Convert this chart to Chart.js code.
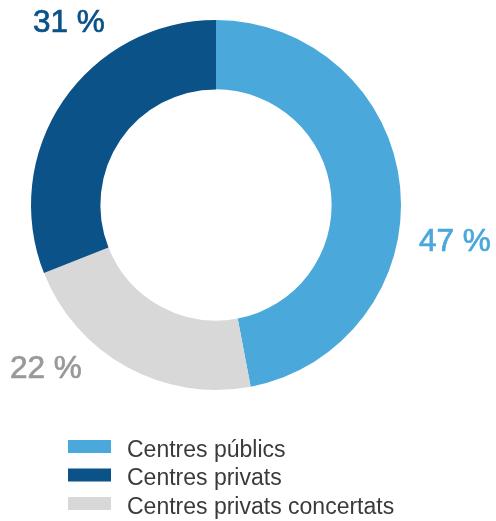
<!DOCTYPE html>
<html>
<head>
<meta charset="utf-8">
<script src="https://cdn.jsdelivr.net/npm/chart.js@4.4.1/dist/chart.umd.min.js"></script>
<style>
  html, body { margin: 0; padding: 0; background: #fff; }
  #wrap { width: 496px; height: 521px; }
</style>
</head>
<body>
<div id="wrap"><canvas id="donut-chart"></canvas></div>
<script>
const labels = ['Centres públics', 'Centres privats concertats', 'Centres privats']
const values = [47, 22, 31]
const legendOrder = [0, 2, 1]

const COLORS = {
  lightBlue: "#4aa8db",
  grey: "#d7d8d7",
  darkBlue: "#0a5287",
  text: "#3a3a3a",
  greyText: "#999999"
}
const sliceColors = [COLORS.lightBlue, COLORS.grey, COLORS.darkBlue]
const labelColors = [COLORS.lightBlue, COLORS.greyText, COLORS.darkBlue]

// where the percentage labels sit, relative to the donut centre
const labelOffsets = [
  { dx: 203, dy: 46 },
  { dx: -206, dy: 173 },
  { dx: -183, dy: -173 }
]

const extrasPlugin = {
  id: "extras",
  afterDraw(chart) {
    const ctx = chart.ctx
    const arc = chart.getDatasetMeta(0).data[0]
    const cx = arc.x
    const cy = arc.y

    ctx.save()
    ctx.font = "31.5px 'Liberation Sans', Arial, sans-serif"
    ctx.textBaseline = "alphabetic"
    ctx.textAlign = "left"
    ctx.lineWidth = 0.7
    values.forEach((v, i) => {
      const txt = v + " %"
      ctx.fillStyle = labelColors[i]
      ctx.strokeStyle = labelColors[i]
      ctx.fillText(txt, cx + labelOffsets[i].dx, cy + labelOffsets[i].dy)
      ctx.strokeText(txt, cx + labelOffsets[i].dx, cy + labelOffsets[i].dy)
    })

    // legend
    ctx.font = "23px 'Liberation Sans', Arial, sans-serif"
    legendOrder.forEach((idx, row) => {
      const y = 440 + row * 28.5
      ctx.fillStyle = sliceColors[idx]
      ctx.fillRect(68, y, 43, 13)
      ctx.fillStyle = COLORS.text
      ctx.fillText(labels[idx], 127, y + 16.5)
    })
    ctx.restore()
  }
}

const data = {
  labels: labels,
  datasets: [{
    data: values,
    backgroundColor: sliceColors,
    borderWidth: 0,
    hoverOffset: 0
  }]
}

const config = {
  type: "doughnut",
  data: data,
  options: {
    responsive: true,
    maintainAspectRatio: false,
    animation: false,
    cutout: "62.5%",
    layout: {
      padding: { left: 31, right: 95, top: 20, bottom: 131 }
    },
    plugins: {
      legend: { display: false },
      tooltip: { enabled: false }
    }
  },
  plugins: [extrasPlugin]
}

const donutChart = new Chart(document.getElementById("donut-chart"), config)
</script>
</body>
</html>
